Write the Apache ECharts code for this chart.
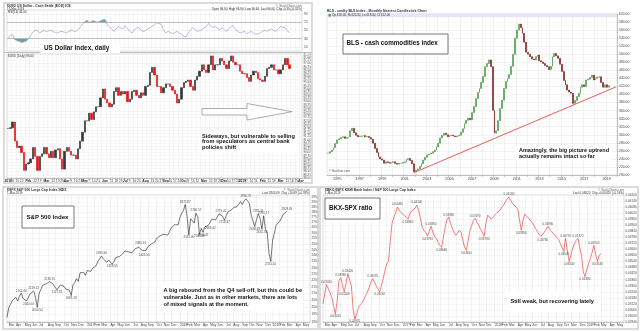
<!DOCTYPE html>
<html>
<head>
<meta charset="utf-8">
<script src="https://cdn.jsdelivr.net/npm/echarts@6/dist/echarts.min.js"></script>
<style>html,body{margin:0;padding:0;background:#fff}#c{width:640px;height:332px}</style>
</head>
<body>
<div id="c"></div>
<script>
// ---------- US Dollar Index: Tuesday / Friday closes, Jan 2018 – Mar 2019 ----------
const usdClose = [
  91.9, 91.95, 92.4, 90.9, 90.4, 90.5, 90.0, 88.6, 89.1, 89.2,
  89.5, 90.4, 89.7, 88.6, 89.7, 89.9, 90.4, 89.9,
  89.6, 90.1, 89.6, 90.2, 90.3, 89.5, 88.7, 90.1,
  90.4, 90.1, 89.8, 89.8, 89.5, 90.3, 90.9, 91.6, 92.5, 92.5,
  93.1, 92.6, 93.2, 93.6, 93.6, 94.3, 95.0, 94.2,
  93.9, 93.6, 93.8, 94.8, 95.1, 94.5, 94.8, 94.6,
  94.8, 94.0, 94.2, 94.8, 94.9, 94.5, 94.3, 94.7, 94.5, 95.2,
  95.3, 96.3, 96.7, 96.1, 95.2, 95.2, 94.7, 95.1,
  95.4, 95.4, 95.2, 94.9, 94.6, 93.9, 94.2, 95.1,
  95.5, 95.6, 95.7, 95.2, 94.9, 95.7, 96.0, 96.4, 96.9, 96.5,
  96.3, 96.9, 97.6, 96.5, 96.9, 96.9, 97.4, 97.2,
  96.9, 96.6, 97.2, 97.6, 97.1, 96.9, 96.9, 96.4, 96.2, 96.2,
  95.9, 95.6, 96.1, 96.4, 96.3, 95.8, 95.7, 95.6,
  96.0, 96.6, 96.7, 96.9, 96.5, 96.5, 96.2, 96.5,
  96.9, 97.4, 96.9, 96.6
];
const usdRsi = [
  33, 38, 40, 28, 25, 23, 21, 22, 24, 29, 38, 46, 50, 51, 44, 48, 50, 47, 49, 51,
  47, 45, 44, 47, 48, 46, 44, 48, 51, 49, 47, 52, 57, 66, 71, 75, 69, 72, 74, 71,
  70, 74, 76, 77, 65, 58, 54, 48, 55, 60, 56, 54, 62, 55, 48, 44, 52, 55, 57, 51,
  47, 50, 54, 57, 60, 64, 69, 67, 65, 52, 44, 48, 45, 42, 45, 48, 44, 41, 36, 35,
  44, 52, 57, 52, 48, 50, 52, 56, 60, 67, 62, 57, 60, 55, 51, 57, 52, 48, 55, 60,
  62, 52, 48, 44, 46, 48, 42, 45, 48, 44, 41, 42, 44, 48, 51, 48, 51, 54, 50, 48,
  55, 60, 58, 57, 50, 44
];
const usdTicksRsi = [10, 30, 50, 70, 90];

// ---------- BLS spot commodity index: bimonthly closes, Mar 1994 – Mar 2019 ----------
const bls1990s = [
  254, 258, 262, 268, 278,
  287, 290, 293, 295, 291, 293,
  295, 310, 316, 305, 299, 295,
  296, 297, 298, 295, 296, 293,
  289, 279, 266, 256, 245, 240,
  237, 229, 233, 231, 229, 231
];
const bls2000s = [
  233, 229, 227, 229, 229, 231,
  233, 239, 241, 236, 228, 208,
  212, 215, 221, 228, 237, 244,
  250, 252, 254, 258, 262, 270,
  279, 292, 299, 304, 300, 295,
  298, 299, 297, 295, 297, 299,
  306, 315, 328, 336, 341, 337,
  355, 370, 390, 405, 415, 430,
  445, 469, 477, 486, 469, 361,
  304, 310, 335, 365, 386, 415
];
const bls2010s = [
  432, 440, 450, 470, 500, 540,
  560, 575, 566, 552, 530, 505,
  500, 494, 488, 486, 494, 498,
  484, 481, 477, 472, 469, 462,
  470, 494, 502, 496, 490, 475,
  457, 435, 424, 411, 406, 403,
  378, 385, 395, 403, 418, 424,
  420, 436, 438, 442, 448, 436,
  440, 443, 444, 430, 418, 424,
  418, 422
];
// uptrend line through the 2001 low: [category index, value]
const blsTrend = [[46, 206], [154, 419]];

// ---------- S&P 500: weekly closes, Feb 2016 – Mar 2019 ----------
const spx2016 = [1932, 1999, 2022, 2049, 2035, 2072, 2047, 2081, 2102.40, 2065, 2057, 2046, 2040.04, 2099, 2099,
  2119.12, 2071, 2000.54, 2102, 2129, 2161, 2175, 2173, 2183, 2190.15, 2183, 2169, 2179, 2127.81, 2139,
  2164, 2168, 2153, 2133, 2141, 2126, 2085.18, 2164, 2182, 2213, 2192, 2259, 2258, 2263, 2239];
const spx2017 = [2277, 2275, 2271, 2295, 2297, 2316, 2351, 2367, 2395.96, 2373, 2378, 2344, 2363, 2355, 2328.95,
  2349, 2384, 2399, 2391, 2382, 2416, 2439, 2432, 2433, 2438, 2423, 2425, 2459, 2473, 2472,
  2480.91, 2441, 2425.55, 2444, 2476, 2461, 2500, 2502, 2519, 2549, 2553, 2575, 2581, 2587, 2582,
  2578, 2602, 2642, 2652, 2675, 2683, 2674];
const spx2018 = [2743, 2786, 2810, 2872.87, 2762, 2581.00, 2732, 2747, 2691, 2786.57, 2752, 2588.26, 2641, 2604.47,
  2656, 2670, 2670, 2663.42, 2728, 2713, 2721, 2735, 2779, 2779.42, 2755, 2718.37, 2760, 2801, 2802, 2819,
  2840, 2833, 2850, 2875, 2902, 2872, 2905, 2930.75, 2914, 2885, 2767, 2768, 2658.69, 2723, 2781.01,
  2736, 2632.56, 2760.17, 2633, 2600, 2417, 2351.10];
const spx2019 = [2532, 2596, 2671, 2665, 2707, 2708, 2776, 2793, 2803.69];
const spxTicks = [1900, 1950, 2000, 2050, 2100, 2150, 2200, 2250, 2300, 2350, 2400, 2450, 2500,
  2550, 2600, 2650, 2700, 2750, 2800, 2850, 2900, 2950];
const spxNotes = [[8, 'top'], [12, 'bottom'], [15, 'top'], [17, 'bottom'], [24, 'top'], [28, 'bottom'],
  [36, 'bottom'], [53, 'top'], [59, 'bottom'], [75, 'top'], [77, 'bottom'], [100, 'top'], [102, 'bottom'],
  [106, 'top'], [108, 'bottom'], [110, 'bottom'], [114, 'bottom'], [120, 'top'], [122, 'bottom'],
  [134, 'top'], [139, 'bottom'], [141, 'top'], [143, 'bottom'], [144, 'top'], [148, 'bottom'], [157, 'top']];

// ---------- BKX : SPX ratio, weekly, same dates ----------
const bkx2016 = [0.0312, 0.0322, 0.0331, 0.0327, 0.0323, 0.0318, 0.0310, 0.0302, 0.0315, 0.0335,
  0.0338, 0.0330, 0.0324, 0.0332, 0.0342, 0.0336, 0.0330, 0.0307, 0.0297, 0.0302,
  0.0308, 0.0311, 0.0313, 0.0316, 0.0320, 0.0323, 0.0328, 0.0333, 0.0337, 0.0334,
  0.0330, 0.0327, 0.0324, 0.0330, 0.0337, 0.0345, 0.0352, 0.0354, 0.0375, 0.0392,
  0.0398, 0.0402, 0.0408, 0.0405, 0.0403];
const bkx2017 = [0.0401, 0.0402, 0.0398, 0.0396, 0.0401, 0.0404, 0.0403, 0.0407, 0.0410, 0.0405,
  0.0397, 0.0388, 0.0385, 0.0383, 0.0379, 0.0384, 0.0389, 0.0383, 0.0379, 0.0377,
  0.0373, 0.0370, 0.0368, 0.0378, 0.0388, 0.0395, 0.0398, 0.0392, 0.0387, 0.0383,
  0.0380, 0.0382, 0.0385, 0.0383, 0.0375, 0.0368, 0.0365, 0.0375, 0.0385, 0.0390,
  0.0395, 0.0397, 0.0393, 0.0390, 0.0386, 0.0383, 0.0379, 0.0392, 0.0400, 0.0398,
  0.0396, 0.0397];
const bkx2018 = [0.0400, 0.0402, 0.0403, 0.0405, 0.0408, 0.0410, 0.0413, 0.0416, 0.0418, 0.0415,
  0.0412, 0.0410, 0.0408, 0.0406, 0.0395, 0.0385, 0.0395, 0.0401, 0.0399, 0.0397,
  0.0396, 0.0393, 0.0390, 0.0387, 0.0384, 0.0381, 0.0379, 0.0378, 0.0383, 0.0386,
  0.0389, 0.0386, 0.0384, 0.0383, 0.0380, 0.0378, 0.0376, 0.0372, 0.0368, 0.0364,
  0.0377, 0.0365, 0.0354, 0.0360, 0.0367, 0.0372, 0.0375, 0.0377, 0.0368, 0.0360,
  0.0344, 0.0339];
const bkx2019 = [0.0346, 0.0352, 0.0357, 0.0363, 0.0370, 0.0361, 0.0354, 0.0360, 0.0362];
const bkxNotes = [[2, 'top'], [7, 'bottom'], [10, 'top'], [12, 'bottom'], [14, 'top'], [18, 'bottom'],
  [28, 'top'], [32, 'bottom'], [42, 'top'], [48, 'bottom'], [53, 'top'], [59, 'bottom'], [61, 'top'],
  [67, 'bottom'], [71, 'top'], [81, 'bottom'], [86, 'top'], [91, 'bottom'], [105, 'top'], [112, 'bottom'],
  [124, 'bottom'], [127, 'top'], [136, 'bottom'], [137, 'top'], [139, 'bottom'], [144, 'top'],
  [148, 'bottom'], [153, 'top'], [155, 'bottom']];

// ---------- helpers ----------
const MON = ['Jan', 'Feb', 'Mar', 'Apr', 'May', 'Jun', 'Jul', 'Aug', 'Sep', 'Oct', 'Nov', 'Dec'];
const DAY = 86400000;
const FONT = '"Liberation Sans", Arial, Helvetica, sans-serif';
const iso = t => new Date(t).toISOString().slice(0, 10);

function monthMarks(times, labelFirst) {
  return times.map((t, i) => {
    const d = new Date(t);
    const changed = i ? new Date(times[i - 1]).getUTCMonth() !== d.getUTCMonth() : labelFirst;
    if (!changed) return null;
    return d.getUTCMonth() === 0 ? String(d.getUTCFullYear()) : MON[d.getUTCMonth()];
  });
}
function candles(closes) {
  return closes.map((c, i) => {
    const o = i ? closes[i - 1] : c;
    return [o, c, Math.min(o, c), Math.max(o, c)];
  });
}

// dollar index categories: Tue and Fri of each week from Mon 1 Jan 2018
const usdPad = 5;
const usdTimes = [];
for (let k = 0; k < usdClose.length + usdPad; k++) {
  usdTimes.push(Date.UTC(2018, 0, 1) + (Math.floor(k / 2) * 7 + (k % 2 ? 4 : 1)) * DAY);
}
const usdCats = usdTimes.map(iso);
const usdMonth = monthMarks(usdTimes, true);
const usdLabels = usdTimes.map((t, i) => {
  if (usdMonth[i]) return { text: usdMonth[i], bold: true };
  if (i % 2 === 0 && !usdMonth[i - 1] && !usdMonth[i + 1]) return { text: String(new Date(t - DAY).getUTCDate()), bold: false };
  return null;
});
const usdLast = usdClose[usdClose.length - 1];
const usdPrev = usdClose[usdClose.length - 2];

// BLS categories: every second month from Mar 1994
const bls = bls1990s.concat(bls2000s, bls2010s);
const blsPad = 4;
const blsMonths = [];
for (let k = 0; k < bls.length + blsPad; k++) {
  const m = 2 + 2 * k;
  blsMonths.push({ y: 1994 + Math.floor(m / 12), m: m % 12 });
}
const blsCats = blsMonths.map(d => d.y + '-' + String(d.m + 1).padStart(2, '0'));
const blsCandles = candles(bls);
const blsLastC = blsCandles[blsCandles.length - 1];

// weekly categories for S&P and ratio, from Fri 26 Feb 2016
const spx = spx2016.concat(spx2017, spx2018, spx2019);
const bkx = bkx2016.concat(bkx2017, bkx2018, bkx2019);
const wkPad = 13;
const wkTimes = [];
for (let k = 0; k < spx.length + wkPad; k++) wkTimes.push(Date.UTC(2016, 1, 26) + k * 7 * DAY);
const wkCats = wkTimes.map(iso);
const wkMonth = monthMarks(wkTimes, false);

const lbl = { fontSize: 3.5, color: '#444', fontFamily: FONT };
const gl = c => ({ show: true, lineStyle: { color: c || '#e8e8e8', width: 0.5 } });
const tiny = (x, y, text, opt) => ({
  type: 'text', x, y, z: 60,
  style: { text, font: (opt && opt.bold ? 'bold ' : '') + ((opt && opt.size) || 3.4) + 'px ' + FONT,
    fill: (opt && opt.fill) || '#333', textAlign: (opt && opt.align) || 'left', textVerticalAlign: 'top', verticalAlign: 'top' }
});
const box = (x, y, w, h, stroke) => ({ type: 'rect', z: 55, shape: { x, y, width: w, height: h },
  style: { fill: '#fff', stroke: stroke || null, lineWidth: stroke ? 0.8 : 0 } });
const note = (x, y, lines, size, lh) => lines.map((t, i) => ({
  type: 'text', z: 60, x, y: y + i * lh,
  style: { text: t, font: 'bold ' + size + 'px ' + FONT, fill: '#111', textVerticalAlign: 'middle', verticalAlign: 'middle' }
}));
const fmt2 = v => v.toFixed(2);
const chg = (a, b, d) => (a - b >= 0 ? '+' : '') + (a - b).toFixed(d) + ' (' + (a - b >= 0 ? '+' : '') + ((a - b) / b * 100).toFixed(2) + '%)';

const spxLast = spx[spx.length - 1], spxPrev = spx[spx.length - 2];
const bkxLast = bkx[bkx.length - 1], bkxPrev = bkx[bkx.length - 2];
const usdRsiLast = usdRsi[usdRsi.length - 1];

const chart = echarts.init(document.getElementById('c'), null, { renderer: 'canvas' });
chart.setOption({
  animation: false,
  backgroundColor: '#fff',
  textStyle: { fontFamily: FONT },
  grid: [
    { left: 7, top: 10, width: 295, height: 41, show: true, borderColor: '#b5b5b5', borderWidth: 0.5, outerBoundsMode: 'none' },
    { left: 7, top: 54, width: 295, height: 124, show: true, borderColor: '#b5b5b5', borderWidth: 0.5, outerBoundsMode: 'none' },
    { left: 327, top: 14, width: 290, height: 161, show: true, borderColor: '#c8c8c8', borderWidth: 0.5, outerBoundsMode: 'none' },
    { left: 7, top: 195, width: 303, height: 127, show: true, borderColor: '#b5b5b5', borderWidth: 0.5, outerBoundsMode: 'none' },
    { left: 323, top: 195, width: 301, height: 127, show: true, borderColor: '#b5b5b5', borderWidth: 0.5, outerBoundsMode: 'none' }
  ],
  xAxis: [
    { gridIndex: 0, type: 'category', data: usdCats, boundaryGap: true,
      axisLine: { show: false }, axisTick: { show: false }, axisLabel: { show: false },
      splitLine: Object.assign(gl('#ececec'), { interval: i => i % 2 === 0 }) },
    { gridIndex: 1, type: 'category', data: usdCats, boundaryGap: true,
      axisLine: { lineStyle: { color: '#999', width: 0.5 } },
      axisTick: { show: true, length: 1.5, interval: i => !!usdLabels[i], lineStyle: { color: '#999', width: 0.5 } },
      axisLabel: Object.assign({}, lbl, { fontSize: 3.3, margin: 1.5, interval: i => !!usdLabels[i],
        formatter: v => { const L = usdLabels[usdCats.indexOf(v)]; return L ? (L.bold ? '{b|' + L.text + '}' : L.text) : ''; },
        rich: { b: { fontSize: 3.3, fontWeight: 'bold', color: '#222', fontFamily: FONT } } }),
      splitLine: Object.assign(gl('#ececec'), { interval: i => i % 2 === 0 }) },
    { gridIndex: 2, type: 'category', data: blsCats, boundaryGap: true,
      axisLine: { lineStyle: { color: '#999', width: 0.5 } },
      axisTick: { show: true, length: 2, interval: i => blsMonths[i].m === 0, lineStyle: { color: '#999', width: 0.5 } },
      axisLabel: Object.assign({}, lbl, { fontSize: 3.8, margin: 2,
        interval: i => blsMonths[i].m === 0 && blsMonths[i].y % 2 === 1,
        formatter: v => v.slice(0, 4) }),
      splitLine: Object.assign(gl('#e4e4e4'), { interval: i => blsMonths[i].m === 0 }) },
    { gridIndex: 3, type: 'category', data: wkCats, boundaryGap: false,
      axisLine: { lineStyle: { color: '#999', width: 0.5 } },
      axisTick: { show: true, length: 1.5, interval: i => !!wkMonth[i], lineStyle: { color: '#999', width: 0.5 } },
      axisLabel: Object.assign({}, lbl, { fontSize: 3.3, margin: 1.5, align: 'left',
        interval: i => !!wkMonth[i], formatter: v => wkMonth[wkCats.indexOf(v)] || '' }),
      splitLine: Object.assign(gl('#e6e6e6'), { interval: i => !!wkMonth[i] }) },
    { gridIndex: 4, type: 'category', data: wkCats, boundaryGap: false,
      axisLine: { lineStyle: { color: '#999', width: 0.5 } },
      axisTick: { show: true, length: 1.5, interval: i => !!wkMonth[i], lineStyle: { color: '#999', width: 0.5 } },
      axisLabel: Object.assign({}, lbl, { fontSize: 3.3, margin: 1.5, align: 'left',
        interval: i => !!wkMonth[i], formatter: v => wkMonth[wkCats.indexOf(v)] || '' }),
      splitLine: Object.assign(gl('#e6e6e6'), { interval: i => !!wkMonth[i] }) }
  ],
  yAxis: [
    { gridIndex: 0, type: 'value', min: 0, max: 100, position: 'right',
      axisLine: { show: false }, axisTick: { show: false, customValues: usdTicksRsi },
      axisLabel: Object.assign({}, lbl, { fontSize: 3.3, margin: 2, customValues: usdTicksRsi }),
      splitLine: gl('#e4e4e4') },
    { gridIndex: 1, type: 'value', min: 88, max: 97.75, interval: 0.25, position: 'right',
      axisLine: { show: false }, axisTick: { show: false },
      axisLabel: Object.assign({}, lbl, { fontSize: 2.9, margin: 1.5, formatter: fmt2 }),
      splitLine: gl('#efefef') },
    { gridIndex: 2, type: 'value', min: 200, max: 600, interval: 20, position: 'right',
      axisLine: { show: true, lineStyle: { color: '#999', width: 0.5 } },
      axisTick: { show: true, length: 1.5, lineStyle: { color: '#999', width: 0.5 } },
      axisLabel: Object.assign({}, lbl, { fontSize: 3.4, margin: 2, formatter: fmt2 }),
      splitLine: gl('#e6e6e6') },
    { gridIndex: 3, type: 'log', logBase: 10, min: 1900, max: 2970, position: 'right',
      axisLine: { show: false }, axisTick: { show: false, customValues: spxTicks },
      axisLabel: Object.assign({}, lbl, { fontSize: 3.1, margin: 1.5, customValues: spxTicks, formatter: v => String(Math.round(v)) }),
      splitLine: gl('#ececec') },
    { gridIndex: 4, type: 'value', min: 0.0294, max: 0.0420, interval: 0.0006, position: 'right',
      axisLine: { show: false }, axisTick: { show: false },
      axisLabel: Object.assign({}, lbl, { fontSize: 3.1, margin: 1.5, formatter: v => v.toFixed(5) }),
      splitLine: gl('#ececec') }
  ],
  series: [
    // RSI(14)
    { type: 'line', xAxisIndex: 0, yAxisIndex: 0, data: usdRsi, symbol: 'none', z: 4,
      lineStyle: { color: '#a49dcf', width: 0.7 },
      markLine: { silent: true, symbol: 'none', label: { show: false },
        data: [
          { yAxis: 70, lineStyle: { color: '#9a9a9a', width: 0.6, type: 'solid' } },
          { yAxis: 30, lineStyle: { color: '#9a9a9a', width: 0.6, type: 'solid' } },
          { yAxis: usdRsiLast, lineStyle: { opacity: 0 },
            label: { show: true, position: 'end', distance: 1, formatter: () => usdRsiLast.toFixed(2),
              fontSize: 3.2, color: '#fff', backgroundColor: '#333', padding: [0.5, 1] } }
        ] } },
    { type: 'line', xAxisIndex: 0, yAxisIndex: 0, stack: 'over', symbol: 'none', silent: true,
      data: usdRsi.map(() => 70), lineStyle: { width: 0, opacity: 0 } },
    { type: 'line', xAxisIndex: 0, yAxisIndex: 0, stack: 'over', symbol: 'none', silent: true,
      data: usdRsi.map(v => Math.max(v - 70, 0)), lineStyle: { width: 0, opacity: 0 },
      areaStyle: { color: '#6c9e8e', opacity: 0.95 } },
    { type: 'line', xAxisIndex: 0, yAxisIndex: 0, stack: 'under', symbol: 'none', silent: true,
      data: usdRsi.map(v => Math.min(v, 30)), lineStyle: { width: 0, opacity: 0 } },
    { type: 'line', xAxisIndex: 0, yAxisIndex: 0, stack: 'under', symbol: 'none', silent: true,
      data: usdRsi.map(v => 30 - Math.min(v, 30)), lineStyle: { width: 0, opacity: 0 },
      areaStyle: { color: '#6c9e8e', opacity: 0.95 } },
    // Dollar index candles
    { type: 'candlestick', xAxisIndex: 1, yAxisIndex: 1, data: candles(usdClose), barWidth: 1.8,
      itemStyle: { color: '#3a3a3a', color0: '#e5171b', borderColor: '#3a3a3a', borderColor0: '#e5171b',
        borderColorDoji: '#3a3a3a', borderWidth: 0.7 },
      markLine: { silent: true, symbol: 'none', lineStyle: { opacity: 0 },
        label: { show: true, position: 'end', distance: 1, formatter: () => usdLast.toFixed(2),
          fontSize: 3.2, color: '#fff', backgroundColor: '#333', padding: [0.5, 1] },
        data: [{ yAxis: usdLast }] } },
    // BLS candles
    { type: 'candlestick', xAxisIndex: 2, yAxisIndex: 2, data: blsCandles, barWidth: 1.4,
      itemStyle: { color: '#4c9a4c', color0: '#7e1d1d', borderColor: '#4c9a4c', borderColor0: '#7e1d1d',
        borderColorDoji: '#4c9a4c', borderWidth: 0.6 },
      markLine: { silent: true, symbol: 'none', lineStyle: { opacity: 0 },
        label: { show: true, position: 'end', distance: 1, formatter: () => blsLastC[1].toFixed(2),
          fontSize: 3.4, color: '#fff', backgroundColor: '#222', padding: [0.5, 1] },
        data: [{ yAxis: blsLastC[1] }] } },
    { type: 'line', xAxisIndex: 2, yAxisIndex: 2, data: blsTrend, symbol: 'none', z: 5,
      lineStyle: { color: '#f25a5a', width: 1 } },
    // S&P 500
    { type: 'line', xAxisIndex: 3, yAxisIndex: 3, data: spx, symbol: 'none',
      lineStyle: { color: '#1a1a1a', width: 0.6 } },
    { type: 'scatter', xAxisIndex: 3, yAxisIndex: 3, symbolSize: 0, silent: true,
      data: spxNotes.map(([i, p]) => ({ value: [i, spx[i]], label: { position: p } })),
      label: { show: true, distance: 1, fontSize: 3, color: '#222', formatter: p => p.value[1].toFixed(2) } },
    // BKX:SPX ratio
    { type: 'line', xAxisIndex: 4, yAxisIndex: 4, data: bkx, symbol: 'none',
      lineStyle: { color: '#ef4444', width: 0.7 } },
    { type: 'scatter', xAxisIndex: 4, yAxisIndex: 4, symbolSize: 0, silent: true,
      data: bkxNotes.map(([i, p]) => ({ value: [i, bkx[i]], label: { position: p } })),
      label: { show: true, distance: 1, fontSize: 3, color: '#222', formatter: p => p.value[1].toFixed(5) } }
  ],
  graphic: { elements: [
    // panel frames
    { type: 'rect', z: 1, shape: { x: 4, y: 3, width: 308, height: 180 }, style: { fill: 'none', stroke: '#cfcfcf', lineWidth: 1.5 } },
    { type: 'line', z: 1, shape: { x1: 4, y1: 52.5, x2: 312, y2: 52.5 }, style: { stroke: '#bdbdbd', lineWidth: 1 } },
    { type: 'rect', z: 1, shape: { x: 3, y: 187, width: 315, height: 142 }, style: { fill: 'none', stroke: '#cfcfcf', lineWidth: 1.5 } },
    { type: 'rect', z: 1, shape: { x: 320, y: 187, width: 318, height: 142 }, style: { fill: 'none', stroke: '#cfcfcf', lineWidth: 1.5 } },

    // dollar panel headers
    tiny(7, 4.6, '$USD US Dollar - Cash Settle (EOD) ICE', { bold: true }),
    tiny(7, 7.6, '15-Mar-2019', { size: 3 }),
    tiny(302, 4.6, '\u00a9 StockCharts.com', { size: 3, align: 'right', fill: '#666' }),
    tiny(302, 7.6, 'Open ' + fmt2(usdPrev) + '  High ' + fmt2(Math.max(usdPrev, usdLast)) + '  Low ' + fmt2(Math.min(usdPrev, usdLast)) +
      '  Last ' + fmt2(usdLast) + '  Chg ' + chg(usdLast, usdPrev, 2), { size: 3, align: 'right' }),
    tiny(8, 11, 'RSI(14) ' + usdRsiLast.toFixed(2), { size: 3 }),
    tiny(8, 54.6, '$USD (Daily) ' + fmt2(usdLast), { size: 3 }),
    box(40, 43, 80, 10),
    ...note(44, 48.2, ['US Dollar Index, daily'], 6.4, 0),
    { type: 'polygon', z: 55, shape: { points: [[202, 108.5], [247, 108.5], [247, 103.5], [292, 111.7], [247, 120], [247, 115], [202, 115]] },
      style: { fill: '#fff', stroke: '#8a8a8a', lineWidth: 0.7 } },
    box(199, 130.5, 99, 22.5),
    ...note(202, 136, ['Sideways, but vulnerable to selling', 'from speculators as central bank', 'policies shift'], 5.6, 5.85),

    // BLS panel
    tiny(327, 9.2, 'BLS - cmdty BLS Index - Monthly Nearest Candlestick Chart', { size: 3.5, bold: true }),
    { type: 'rect', z: 55, shape: { x: 327.3, y: 13.3, width: 289.5, height: 4 }, style: { fill: '#e5e5f6' } },
    { type: 'rect', z: 56, shape: { x: 328.5, y: 14.1, width: 2.4, height: 2.4 }, style: { fill: '#3aa63a' } },
    tiny(332, 13.9, 'Op ' + fmt2(blsLastC[0]) + ', Hi ' + fmt2(blsLastC[3]) + ', Lo ' + fmt2(blsLastC[2]) + ', Cl ' + fmt2(blsLastC[1]), { size: 3 }),
    box(343, 34, 105, 20, '#555'),
    ...note(346.5, 43.2, ['BLS - cash commodities index'], 6.3, 0),
    box(516, 145.5, 96, 15),
    ...note(519, 150, ['Amazingly, the big picture uptrend', 'actually remains intact so far'], 5.5, 6.8),
    tiny(329, 169.5, '\u00a9 Barchart.com', { size: 3, fill: '#555' }),

    // S&P panel
    tiny(7, 189, '$SPX S&P 500 Large Cap Index INDX', { bold: true }),
    tiny(7, 192, '1-Mar-2019', { size: 3 }),
    tiny(310, 189, '\u00a9 StockCharts.com', { size: 3, align: 'right', fill: '#666' }),
    tiny(310, 192, 'Last ' + fmt2(spxLast) + '  Chg ' + chg(spxLast, spxPrev, 2), { size: 3, align: 'right' }),
    box(22, 206, 52, 22, '#555'),
    ...note(26.5, 217, ['S&P 500 Index'], 6.1, 0),
    box(161, 285, 142, 26),
    ...note(163.5, 290, ['A big rebound from the Q4 sell-off, but this could be',
      'vulnerable. Just as in other markets, there are lots', 'of mixed signals at the moment.'], 5.6, 7.2),

    // BKX:SPX panel
    tiny(325, 189, '$BKX:$SPX KBW Bank Index / S&P 500 Large Cap Index', { bold: true }),
    tiny(325, 192, '1-Mar-2019', { size: 3 }),
    tiny(624, 189, '\u00a9 StockCharts.com', { size: 3, align: 'right', fill: '#666' }),
    tiny(624, 192, 'Last ' + bkxLast.toFixed(5) + '  Chg ' + chg(bkxLast, bkxPrev, 5), { size: 3, align: 'right' }),
    box(325, 198, 55, 21, '#555'),
    ...note(329, 208.5, ['BKX-SPX ratio'], 6.3, 0),
    box(507, 292, 93, 19),
    ...note(510.5, 301.5, ['Still weak, but recovering lately'], 5.6, 0)
  ] }
});
</script>
</body>
</html>
